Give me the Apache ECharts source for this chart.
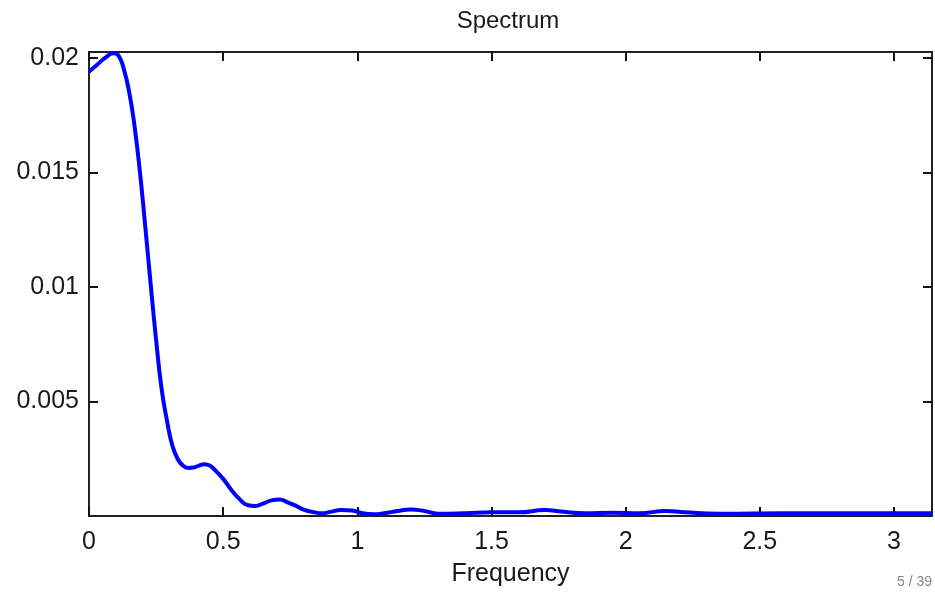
<!DOCTYPE html>
<html>
<head>
<meta charset="utf-8">
<script src="https://cdn.jsdelivr.net/npm/echarts@6/dist/echarts.min.js"></script>
<style>
  html, body { margin: 0; padding: 0; background: #fff; }
  #chart { width: 935px; height: 592px; }
</style>
</head>
<body>
<div id="chart"></div>
<script>
// spectrum
var freq = [0, 0.03, 0.06, 0.09, 0.11, 0.13, 0.15, 0.17, 0.19, 0.21, 0.23, 0.25, 0.27, 0.29, 0.31, 0.33,
  0.35, 0.37, 0.39, 0.41, 0.43, 0.45, 0.47, 0.50, 0.53, 0.56, 0.59, 0.62, 0.65, 0.68, 0.71, 0.74,
  0.77, 0.80, 0.84, 0.87, 0.90, 0.94, 0.98, 1.02, 1.06, 1.10, 1.15, 1.20, 1.25, 1.30, 1.40, 1.50,
  1.60, 1.70, 1.76, 1.85, 1.95, 2.05, 2.15, 2.22, 2.35, 2.6, 2.9, 3.1416];
var power = [0.0194, 0.0197, 0.0200, 0.0202, 0.0201, 0.0195, 0.0185, 0.0170, 0.0150, 0.0126, 0.0101, 0.0077, 0.0056, 0.0042, 0.0031, 0.0025,
  0.00220, 0.00210, 0.00212, 0.00220, 0.00226, 0.00220, 0.00200, 0.00162, 0.00115, 0.00075, 0.00048, 0.00044, 0.00055, 0.00068, 0.00072, 0.00060,
  0.00045, 0.00028, 0.00016, 0.00012, 0.00018, 0.00026, 0.00024, 0.00012, 0.00008, 0.00012, 0.00022, 0.00028, 0.00022, 0.00010, 0.00012, 0.00016,
  0.00016, 0.00026, 0.00020, 0.00012, 0.00014, 0.00012, 0.00022, 0.00016, 0.00010, 0.00012, 0.00012, 0.00012];
var xTicks = [0, 0.5, 1, 1.5, 2, 2.5, 3];
var yTicks = [0.005, 0.01, 0.015, 0.02];

var font = 'Liberation Sans, Arial, sans-serif';
var ink = '#1a1a1a';

var pts = freq.map(function (f, i) { return [f, power[i]]; });

function xAx(pos, labels) {
  return {
    type: 'value', position: pos, min: 0, max: Math.PI,
    axisLine: { show: true, onZero: false, lineStyle: { color: '#222', width: 2 } },
    axisTick: { show: true, inside: true, length: 9, lineStyle: { color: '#111', width: 2 }, customValues: xTicks },
    axisLabel: { show: labels, customValues: xTicks, color: ink, fontSize: 25, fontFamily: font, margin: 14 },
    splitLine: { show: false },
    name: labels ? 'Frequency' : '',
    nameLocation: 'middle', nameGap: 46,
    nameTextStyle: { color: ink, fontSize: 25, fontFamily: font }
  };
}
function yAx(pos, labels) {
  return {
    type: 'value', position: pos, min: 0, max: 0.02026,
    axisLine: { show: true, onZero: false, lineStyle: { color: '#222', width: 2 } },
    axisTick: { show: true, inside: true, length: 9, lineStyle: { color: '#111', width: 2 }, customValues: yTicks },
    axisLabel: { show: labels, customValues: yTicks, color: ink, fontSize: 25, fontFamily: font, margin: 10 },
    splitLine: { show: false }
  };
}

var option = {
  animation: false,
  backgroundColor: '#fff',
  grid: { left: 89, right: 3, top: 52, bottom: 76, containLabel: false, outerBoundsMode: 'none' },
  xAxis: [xAx('bottom', true), xAx('top', false)],
  yAxis: [yAx('left', true), yAx('right', false)],
  series: [
    {
      type: 'line',
      data: pts,
      smooth: true,
      showSymbol: false,
      lineStyle: { color: '#0000ff', width: 4 }
    }
  ],
  graphic: [
    { type: 'text', x: 508, y: 21,
      style: { text: 'Spectrum', fill: ink, font: '24px ' + font, textAlign: 'center', textVerticalAlign: 'middle' } },
    { type: 'text', x: 897, y: 582,
      style: { text: '5 / 39', fill: '#888', font: '14px ' + font, textAlign: 'left', textVerticalAlign: 'middle' } }
  ]
};

var myChart = echarts.init(document.getElementById('chart'));
myChart.setOption(option, true);
</script>
</body>
</html>
